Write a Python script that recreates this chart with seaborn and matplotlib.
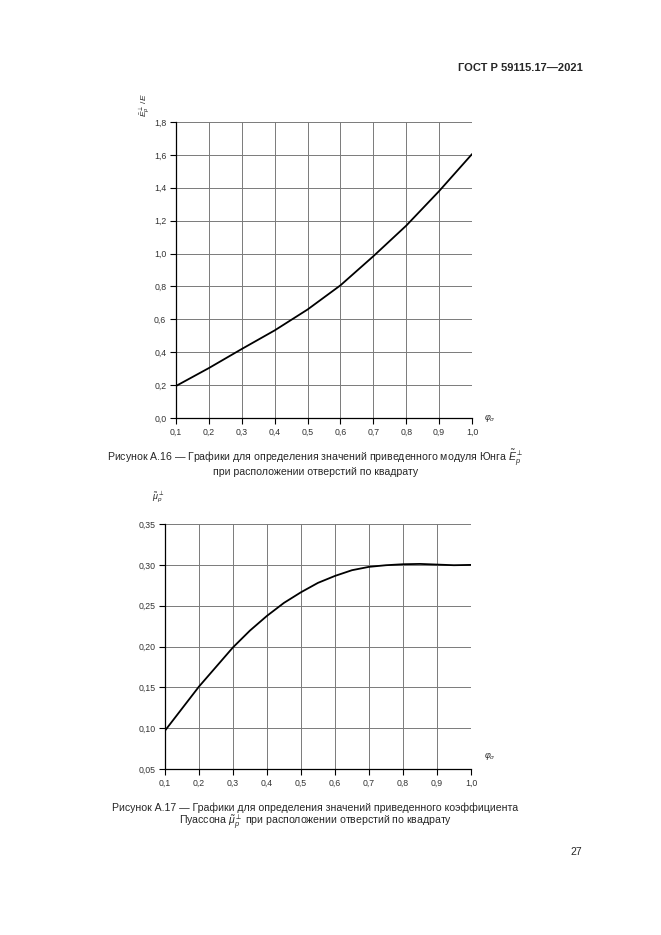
import matplotlib
matplotlib.use('Agg')
import matplotlib.pyplot as plt
import numpy as np
import pandas as pd
import seaborn as sns
from matplotlib.ticker import FuncFormatter

# Figure A.16: reduced Young modulus vs phi_sigma
phi_e = [0.1, 0.2, 0.3, 0.4, 0.5, 0.6, 0.7, 0.8, 0.9, 1.0]
e_ratio = [0.195, 0.304, 0.42, 0.533, 0.66, 0.807, 0.984, 1.17, 1.38, 1.605]

# Figure A.17: reduced Poisson ratio vs phi_sigma
phi_mu = [0.1, 0.15, 0.2, 0.25, 0.3, 0.35, 0.4, 0.45, 0.5, 0.55,
          0.6, 0.65, 0.7, 0.75, 0.8, 0.85, 0.9, 0.95, 1.0]
mu_val = [0.097, 0.124, 0.151, 0.175, 0.199, 0.2196, 0.2376, 0.2535, 0.2665, 0.278,
          0.2865, 0.2935, 0.2976, 0.2996, 0.3008, 0.3012, 0.3004, 0.2996, 0.300]

x_ticks = [0.1, 0.2, 0.3, 0.4, 0.5, 0.6, 0.7, 0.8, 0.9, 1.0]
e_ticks = [0.0, 0.2, 0.4, 0.6, 0.8, 1.0, 1.2, 1.4, 1.6, 1.8]
mu_ticks = [0.05, 0.10, 0.15, 0.20, 0.25, 0.30, 0.35]

sns.set_style('white')
plt.rcParams['font.family'] = ['Liberation Sans', 'DejaVu Sans']
plt.rcParams['mathtext.fontset'] = 'custom'
plt.rcParams['mathtext.rm'] = 'Liberation Sans'
plt.rcParams['mathtext.it'] = 'Liberation Sans:italic'

fig = plt.figure(figsize=(6.61, 9.35), dpi=100)
fig.patch.set_facecolor('white')

comma = lambda fmt: FuncFormatter(lambda v, p: (fmt % v).replace('.', ','))


def style_axes(ax, xt, yt, yfmt):
    ax.set_xlim(xt[0], xt[-1])
    ax.set_ylim(yt[0], yt[-1])
    ax.set_xticks(xt)
    ax.set_yticks(yt)
    ax.xaxis.set_major_formatter(comma('%.1f'))
    ax.yaxis.set_major_formatter(comma(yfmt))
    ax.grid(True, color='#7a7a7a', linewidth=0.7)
    for s in ['top', 'right']:
        ax.spines[s].set_visible(False)
    for s in ['left', 'bottom']:
        ax.spines[s].set_color('black')
        ax.spines[s].set_linewidth(0.9)
    ax.tick_params(axis='both', direction='out', length=4, width=0.8,
                   color='black', labelsize=6.3, pad=3, left=True, bottom=True,
                   labelcolor='#333333')
    ax.set_xlabel('')
    ax.set_ylabel('')


# top chart
ax1 = fig.add_axes([0.2663, 0.5529, 0.4478, 0.3166])
sns.lineplot(x=phi_e, y=e_ratio, ax=ax1, color='black', linewidth=1.3)
style_axes(ax1, x_ticks, e_ticks, '%.1f')
ax1.text(1.035, 0.0, r'$\varphi_\sigma$', transform=ax1.get_xaxis_transform(),
         fontsize=6.5, va='center', ha='left')
fig.text(0.218, 0.888, r'$\tilde{E}^{\perp}_{p}\,/\,E$', rotation=90,
         fontsize=6, ha='center', va='center')

# bottom chart
ax2 = fig.add_axes([0.2496, 0.1775, 0.4629, 0.2620])
sns.lineplot(x=phi_mu, y=mu_val, ax=ax2, color='black', linewidth=1.3)
style_axes(ax2, x_ticks, mu_ticks, '%.2f')
ax2.text(1.037, 0.05, r'$\varphi_\sigma$', transform=ax2.get_xaxis_transform(),
         fontsize=6.5, va='center', ha='left')
fig.text(0.239, 0.468, r'$\tilde{\mu}^{\perp}_{p}$', fontsize=6.5, ha='center', va='center')

# captions and page texts
fig.text(0.882, 0.927, 'ГОСТ Р 59115.17—2021', fontsize=8, fontweight='bold',
         ha='right', va='center')
fig.text(0.477, 0.510, 'Рисунок А.16 — Графики для определения значений приведенного модуля Юнга '
         r'$\tilde{E}^{\perp}_{p}$', fontsize=7.6, ha='center', va='center')
fig.text(0.477, 0.495, 'при расположении отверстий по квадрату', fontsize=7.6,
         ha='center', va='center')
fig.text(0.477, 0.136, 'Рисунок А.17 — Графики для определения значений приведенного коэффициента',
         fontsize=7.6, ha='center', va='center')
fig.text(0.477, 0.120, r'Пуассона $\tilde{\mu}^{\perp}_{p}$ при расположении отверстий по квадрату',
         fontsize=7.6, ha='center', va='center')
fig.text(0.872, 0.089, '27', fontsize=7.5, ha='center', va='center')

fig.savefig('out.png', dpi=100, facecolor='white')
